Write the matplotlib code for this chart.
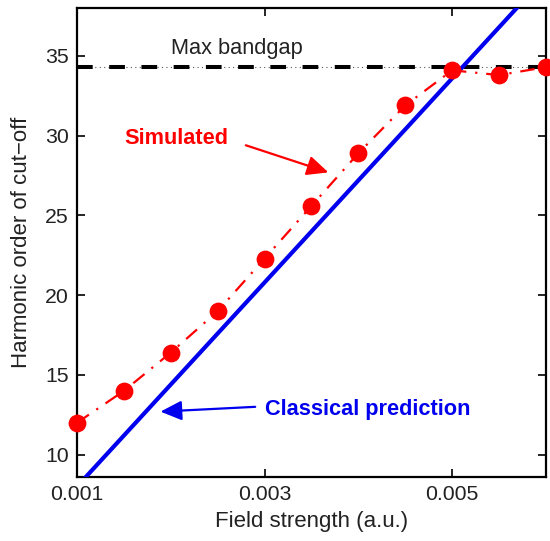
import numpy as np
import matplotlib
matplotlib.use("Agg")
import matplotlib.pyplot as plt

plt.rcParams['font.family'] = ['Liberation Sans', 'DejaVu Sans']

# simulated cut-off harmonic order vs field strength
field = [0.001, 0.0015, 0.002, 0.0025, 0.003, 0.0035, 0.004, 0.0045, 0.005, 0.0055, 0.006]
cutoff = [12.0, 14.0, 16.4, 19.0, 22.3, 25.6, 28.9, 31.9, 34.1, 33.8, 34.3]

# classical prediction (straight line)
classical_x = [0.001, 0.006]
classical_y = [8.0, 40.0]

max_bandgap = 34.3
xticks = [0.001, 0.003, 0.005]
xticklabels = ["0.001", "0.003", "0.005"]
yticks = [10, 15, 20, 25, 30, 35]

txt = '#222222'
fs = 15.7

fig = plt.figure(figsize=(5.5, 5.41), dpi=100)
ax = fig.add_axes([0.14, 0.1183, 0.8527, 0.8667])

ax.axhline(max_bandgap, color='#555555', lw=0.8, ls=(0, (1, 3)), zorder=1)
ax.axhline(max_bandgap, color='black', lw=2.9, ls=(0, (3.9, 4.1)), zorder=2)
ax.plot(classical_x, classical_y, color='#0000ee', lw=3, zorder=3)
ax.plot(field, cutoff, color='red', lw=1.6, ls=(0, (6.5, 4, 1, 4)),
        marker='o', ms=11.8, mec='red', mfc='red', zorder=4, clip_on=False)

ax.text(0.00270, 35.45, "Max bandgap", fontsize=fs, color=txt,
        ha='center', va='center')

# labels and arrows
ax.text(0.00206, 29.8, "Simulated", color='red', fontsize=fs,
        fontweight='bold', ha='center', va='center')
ax.annotate("", xy=(0.00368, 27.7), xytext=(0.00280, 29.4),
            arrowprops=dict(arrowstyle='-|>,head_length=0.65,head_width=0.3',
                            color='red', lw=1.6, mutation_scale=20,
                            shrinkA=0, shrinkB=0))
ax.text(0.00410, 12.85, "Classical prediction", color='#0000ee', fontsize=fs,
        fontweight='bold', ha='center', va='center')
ax.annotate("", xy=(0.00189, 12.7), xytext=(0.00290, 13.0),
            arrowprops=dict(arrowstyle='-|>,head_length=0.65,head_width=0.3',
                            color='#0000ee', lw=1.6, mutation_scale=20,
                            shrinkA=0, shrinkB=0))

ax.set_xlim(0.001, 0.006)
ax.set_ylim(8.6, 38)
ax.set_xticks(xticks)
ax.set_xticklabels(xticklabels)
ax.set_yticks(yticks)
ax.tick_params(direction='in', length=6, width=1.2, top=True, right=True,
               labelsize=15.3, labelcolor=txt, pad=6)
for s in ax.spines.values():
    s.set_linewidth(1.6)

ax.set_xlabel("Field strength (a.u.)", fontsize=16, color=txt, labelpad=5)
ax.set_ylabel("Harmonic order of cut\u2212off", fontsize=16, color=txt, labelpad=9)

fig.savefig("out.png", dpi=100)
